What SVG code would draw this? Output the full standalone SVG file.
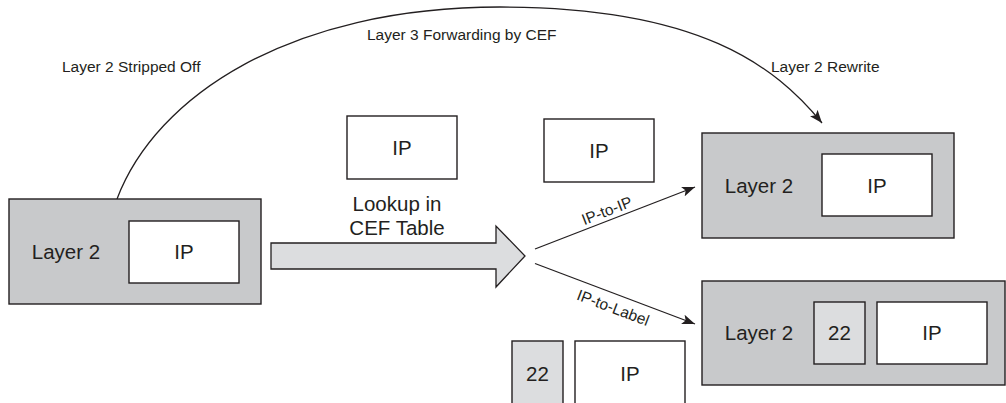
<svg xmlns="http://www.w3.org/2000/svg" width="1006" height="403" viewBox="0 0 1006 403">
<style>
.outer{fill:#c8c9cb;stroke:#231f20;stroke-width:1.4}
.ip{fill:#ffffff;stroke:#231f20;stroke-width:1.4}
.lbl{fill:#dcdddf;stroke:#231f20;stroke-width:1.4}
.big{font-family:"Liberation Sans",Arial,sans-serif;font-size:20.5px;fill:#231f20}
.small{font-family:"Liberation Sans",Arial,sans-serif;font-size:15.5px;fill:#231f20}
.mid{text-anchor:middle}
.conn{fill:none;stroke:#231f20;stroke-width:1.3}
</style>
<defs>
<marker id="ah" markerUnits="userSpaceOnUse" markerWidth="14" markerHeight="10" refX="13" refY="5" orient="auto">
<path d="M0,0 L13,5 L0,10 L3,5 z" fill="#231f20"/>
</marker>
</defs>

<g id="connectors">
<path class="conn" d="M117,199 C156,96 290,7 500,7 C700,7 775,66 822,123" marker-end="url(#ah)"/>
<polygon id="lookup-arrow" points="271,243 496,243 496,226 525,256 496,287 496,269 271,269" fill="#dcdddf" stroke="#231f20" stroke-width="1.3"/>
<line class="conn" x1="535" y1="249" x2="695" y2="187" marker-end="url(#ah)"/>
<line class="conn" x1="535" y1="263.5" x2="695" y2="324" marker-end="url(#ah)"/>
</g>

<g id="labels">
<text class="small" x="62" y="72">Layer 2 Stripped Off</text>
<text class="small" x="367" y="40">Layer 3 Forwarding by CEF</text>
<text class="small" x="771" y="72">Layer 2 Rewrite</text>
<text class="big mid" x="397" y="211">Lookup in</text>
<text class="big mid" x="397" y="235">CEF Table</text>
<text class="small mid" transform="translate(607,211) rotate(-21.3)" y="5">IP-to-IP</text>
<text class="small mid" transform="translate(613,308) rotate(20.8)" y="5">IP-to-Label</text>
</g>

<g id="in-packet">
<rect class="outer" x="9" y="199" width="252" height="105"/>
<rect class="ip" x="129" y="221" width="110" height="62"/>
<text class="big mid" x="66" y="259">Layer 2</text>
<text class="big mid" x="184" y="259">IP</text>
</g>

<g id="ip-only-1">
<rect class="ip" x="347" y="116" width="110" height="63"/>
<text class="big mid" x="402" y="155">IP</text>
</g>

<g id="ip-only-2">
<rect class="ip" x="544" y="119" width="110" height="63"/>
<text class="big mid" x="599" y="158">IP</text>
</g>

<g id="out-ip">
<rect class="outer" x="702" y="133" width="252" height="105"/>
<rect class="ip" x="822" y="154" width="110" height="62"/>
<text class="big mid" x="759" y="193">Layer 2</text>
<text class="big mid" x="877" y="193">IP</text>
</g>

<g id="out-label">
<rect class="outer" x="702" y="281" width="303" height="104"/>
<rect class="lbl" x="814" y="302" width="51" height="62"/>
<rect class="ip" x="877" y="302" width="110" height="62"/>
<text class="big mid" x="759" y="340">Layer 2</text>
<text class="big mid" x="839.5" y="340">22</text>
<text class="big mid" x="932" y="340">IP</text>
</g>

<g id="label-ip">
<rect class="lbl" x="512" y="341" width="51" height="75"/>
<rect class="ip" x="575" y="341" width="110" height="75"/>
<text class="big mid" x="537.5" y="381">22</text>
<text class="big mid" x="630" y="381">IP</text>
</g>
</svg>
